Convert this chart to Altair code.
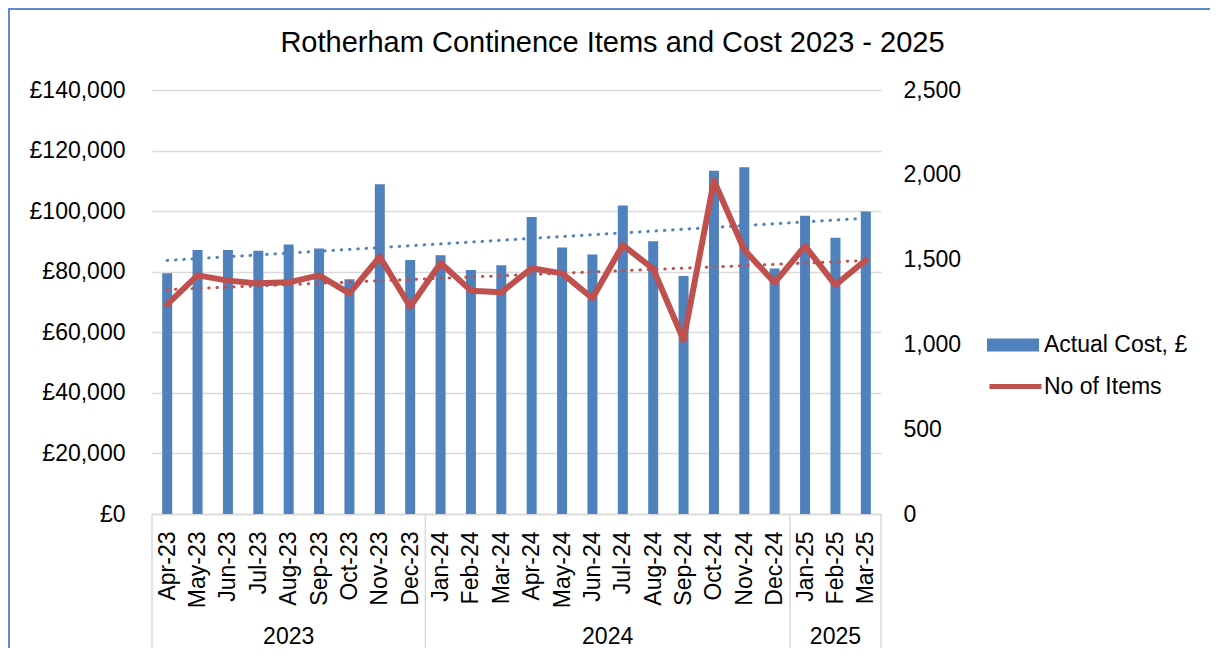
import json
import altair as alt
import pandas as pd

# ---------------- data ----------------
months = ["Apr-23", "May-23", "Jun-23", "Jul-23", "Aug-23", "Sep-23", "Oct-23", "Nov-23", "Dec-23",
          "Jan-24", "Feb-24", "Mar-24", "Apr-24", "May-24", "Jun-24", "Jul-24", "Aug-24", "Sep-24",
          "Oct-24", "Nov-24", "Dec-24", "Jan-25", "Feb-25", "Mar-25"]
cost = [79500, 87200, 87200, 86900, 89000, 87700, 77500, 108900, 83900,
        85400, 80600, 82100, 98100, 88000, 85700, 101900, 90100, 78600,
        113300, 114500, 81100, 98500, 91200, 99900]
items = [1236, 1407, 1376, 1360, 1366, 1407, 1301, 1517, 1222,
         1480, 1317, 1307, 1449, 1419, 1272, 1586, 1445, 1026,
         1965, 1557, 1364, 1580, 1350, 1498]
series_names = ["Actual Cost, £", "No of Items"]
title_text = "Rotherham Continence Items and Cost 2023 - 2025"
cost_ticks = [0, 20000, 40000, 60000, 80000, 100000, 120000, 140000]
item_ticks = [0, 500, 1000, 1500, 2000, 2500]

df = pd.DataFrame({"month": months, "idx": list(range(len(months))), "cost": cost, "items": items})
df["cost_series"] = series_names[0]
df["items_series"] = series_names[1]
df["year"] = "20" + df["month"].str[-2:]

groups = df.groupby("year")["idx"].agg(["min", "max"]).reset_index()
groups["mid"] = (groups["min"] + groups["max"]) / 2
bounds = sorted(set(list(groups["min"] - 0.5) + list(groups["max"] + 0.5)))
bounds_df = pd.DataFrame({"pos": bounds})
one = pd.DataFrame({"k": [0]})

# ---------------- style ----------------
W, H = 729, 424
PAD_L, PAD_T = 144, 82
TOTAL_W, TOTAL_H = 1202, 640
FONT = "Liberation Sans"
BLUE = "#4F81BD"
RED = "#C0504D"
GRID = "#D9D9D9"
TXT = "#000000"
FS = 23

x_scale = alt.Scale(domain=[-0.5, len(months) - 0.5], nice=False, zero=False, padding=0)
y_left_scale = alt.Scale(domain=[cost_ticks[0], cost_ticks[-1]], nice=False, padding=0)
y_right_scale = alt.Scale(domain=[item_ticks[0], item_ticks[-1]], nice=False, padding=0)

x_axis = alt.Axis(values=list(range(len(months))), labelExpr=json.dumps(months) + "[datum.value]",
                  labelAngle=270, labelFontSize=FS, labelFont=FONT, labelColor=TXT, labelPadding=17,
                  ticks=False, grid=False, domainColor=GRID, domainWidth=1.5,
                  labelOverlap=False, labelFlush=False, title=None)
left_axis = alt.Axis(values=cost_ticks, labelExpr="'£' + format(datum.value, ',')",
                     labelFontSize=FS, labelFont=FONT, labelColor=TXT, labelPadding=27,
                     ticks=False, domain=False, grid=True, gridColor=GRID, gridWidth=1.5,
                     title=None)
right_axis = alt.Axis(values=item_ticks, format=",.0f", orient="right",
                      labelFontSize=FS, labelFont=FONT, labelColor=TXT, labelPadding=22,
                      ticks=False, domain=False, grid=False, title=None)

legend_common = dict(title=None, orient="none", labelFontSize=FS, labelFont=FONT, labelColor=TXT,
                     padding=0, symbolSize=2704)

X = lambda field: alt.X(field, scale=x_scale, axis=x_axis)

bars = alt.Chart(df).mark_bar(size=10).encode(
    x=X("idx:Q"),
    y=alt.Y("cost:Q", scale=y_left_scale, axis=left_axis),
    fill=alt.Fill("cost_series:N", scale=alt.Scale(domain=[series_names[0]], range=[BLUE]),
                  legend=alt.Legend(legendX=835, legendY=229, labelOffset=5,
                                    symbolType="M-1,-0.25H1V0.25H-1Z", symbolStrokeWidth=0,
                                    **legend_common)),
)

blue_trend = alt.Chart(df).transform_regression("idx", "cost", extent=[0, len(months) - 1]).mark_line(
    color=BLUE, strokeWidth=3, strokeDash=[0.5, 7.8], strokeCap="round"
).encode(
    x=X("idx:Q"),
    y=alt.Y("cost:Q", scale=y_left_scale, axis=left_axis),
)

separators = alt.Chart(bounds_df).mark_rule(color=GRID, strokeWidth=1.5).encode(
    x=X("pos:Q"),
    y=alt.value(H),
    y2=alt.value(TOTAL_H - PAD_T),
)

year_labels = alt.Chart(groups).mark_text(fontSize=FS, font=FONT, color=TXT, baseline="middle").encode(
    x=X("mid:Q"),
    y=alt.value(H + 123),
    text="year:N",
)

border_top = alt.Chart(one).mark_rule(color="#5B8BD0", strokeWidth=2).encode(
    x=alt.value(-PAD_L), x2=alt.value(TOTAL_W - PAD_L), y=alt.value(-PAD_T + 1))
border_left = alt.Chart(one).mark_rule(color="#5B8BD0", strokeWidth=2).encode(
    x=alt.value(-PAD_L + 1), y=alt.value(-PAD_T), y2=alt.value(TOTAL_H - PAD_T))

red_trend = alt.Chart(df).transform_regression("idx", "items", extent=[0, len(months) - 1]).mark_line(
    color=RED, strokeWidth=3, strokeDash=[0.5, 7.8], strokeCap="round"
).encode(
    x=X("idx:Q"),
    y=alt.Y("items:Q", scale=y_right_scale, axis=right_axis),
)

red_line = alt.Chart(df).mark_line(strokeWidth=6, strokeJoin="round", strokeCap="round").encode(
    x=X("idx:Q"),
    y=alt.Y("items:Q", scale=y_right_scale, axis=right_axis),
    stroke=alt.Stroke("items_series:N", scale=alt.Scale(domain=[series_names[1]], range=[RED]),
                      legend=alt.Legend(legendX=835, legendY=268, labelOffset=0, symbolType="stroke",
                                        symbolStrokeWidth=5, **legend_common)),
)

left = alt.layer(bars, blue_trend, separators, year_labels, border_top, border_left)
right = alt.layer(red_trend, red_line)

chart = alt.layer(left, right).resolve_scale(y="independent").properties(
    width=W, height=H, background="white",
    padding={"left": PAD_L, "top": PAD_T, "right": TOTAL_W - PAD_L - W, "bottom": TOTAL_H - PAD_T - H},
    autosize=alt.AutoSizeParams(type="none"),
    title=alt.TitleParams(title_text, fontSize=29, font=FONT, fontWeight="normal", color=TXT,
                          anchor="middle", frame="group", dx=96, offset=0, dy=51),
).configure_view(stroke=None)

chart.save("out.html", embed_options={"renderer": "svg", "actions": False})
